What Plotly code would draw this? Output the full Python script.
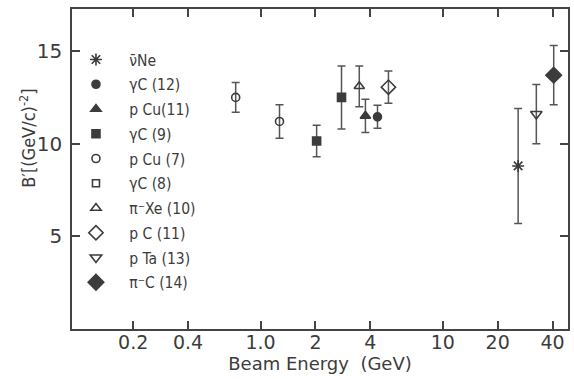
import plotly.graph_objects as go

# ---- data ----
series_names = ["ν̄Ne", "γC (12)", "p Cu(11)", "γC (9)", "p Cu (7)", "γC (8)",
                "π⁻Xe (10)", "p C (11)", "p Ta (13)", "π⁻C (14)"]
series_x = [[25.9], [4.38], [3.76], [2.03, 2.78], [0.73, 1.27], [None],
            [3.48], [5.03], [32.6], [40.6]]
series_y = [[8.8], [11.45], [11.5], [10.15, 12.5], [12.5, 11.2], [None],
            [13.1], [13.05], [11.6], [13.7]]
series_err = [[3.1], [0.62], [0.9], [0.85, 1.7], [0.8, 0.9], [None],
              [1.1], [0.87], [1.6], [1.6]]
symbols = ["asterisk-open", "circle", "triangle-up", "square", "circle-open", "square-open",
           "triangle-up-open", "diamond-open", "triangle-down-open", "diamond"]
sizes = [10, 8, 9, 8, 8, 7, 9, 11, 10, 12]

x_tickvals = [0.2, 0.4, 1, 2, 4, 10, 20, 40]
x_ticktext = ["0.2", "0.4", "1.0", "2", "4", "10", "20", "40"]
y_tickvals = [5, 10, 15]

INK = "#3c3c3c"
FONT = "DejaVu Sans"
FONT_C = "DejaVu Sans Condensed, DejaVu Sans"
PAD = "\u00a0\u00a0\u00a0"

fig = go.Figure()
for i, (name, xs, ys, es, sym, sz) in enumerate(zip(series_names, series_x, series_y, series_err, symbols, sizes)):
    fig.add_trace(go.Scatter(
        x=xs, y=ys, mode="markers", name=PAD + name, legendgroup="g%d" % i,
        marker=dict(symbol=sym, size=sz, color=INK, line=dict(color=INK, width=1.6)),
        error_y=dict(type="data", array=es, visible=True, color="#555555", thickness=1.5, width=4),
    ))

fig.update_layout(
    width=574, height=379,
    margin=dict(l=72, r=4, t=9, b=50),
    paper_bgcolor="white", plot_bgcolor="white",
    font=dict(family=FONT, color=INK),
    showlegend=True,
    legend=dict(x=0.008, y=0.894, xanchor="left", yanchor="top",
                bgcolor="rgba(0,0,0,0)", font=dict(size=15.5, family=FONT_C, color=INK),
                traceorder="grouped", tracegroupgap=1.6),
    xaxis=dict(type="log", range=[-1.035, 1.687], tickmode="array",
               tickvals=x_tickvals, ticktext=x_ticktext,
               ticks="inside", ticklen=8, tickwidth=1.5, tickcolor="#444",
               showline=True, linecolor="#444", linewidth=1.5, mirror="ticks",
               showgrid=False, zeroline=False, ticklabelstandoff=-5,
               tickfont=dict(size=19, family=FONT, color=INK),
               title=dict(text="Beam Energy  (GeV)", font=dict(size=18, family=FONT, color=INK), standoff=2)),
    yaxis=dict(range=[0, 17.27], tickmode="array", tickvals=y_tickvals,
               ticks="inside", ticklen=8, tickwidth=1.5, tickcolor="#444",
               showline=True, linecolor="#444", linewidth=1.5, mirror="ticks",
               showgrid=False, zeroline=False, ticklabelstandoff=4,
               tickfont=dict(size=20, family=FONT, color=INK)),
    annotations=[dict(text="B′[(GeV/c)<sup>-2</sup>]", textangle=-90, xref="paper", yref="paper",
                      x=-0.089, y=0.597, xanchor="center", yanchor="middle", showarrow=False,
                      font=dict(size=18, family=FONT_C, color=INK))],
)

fig.write_html("out.html", config={"displayModeBar": False},
               post_script="document.body.style.margin='0';document.body.style.overflow='hidden';")
